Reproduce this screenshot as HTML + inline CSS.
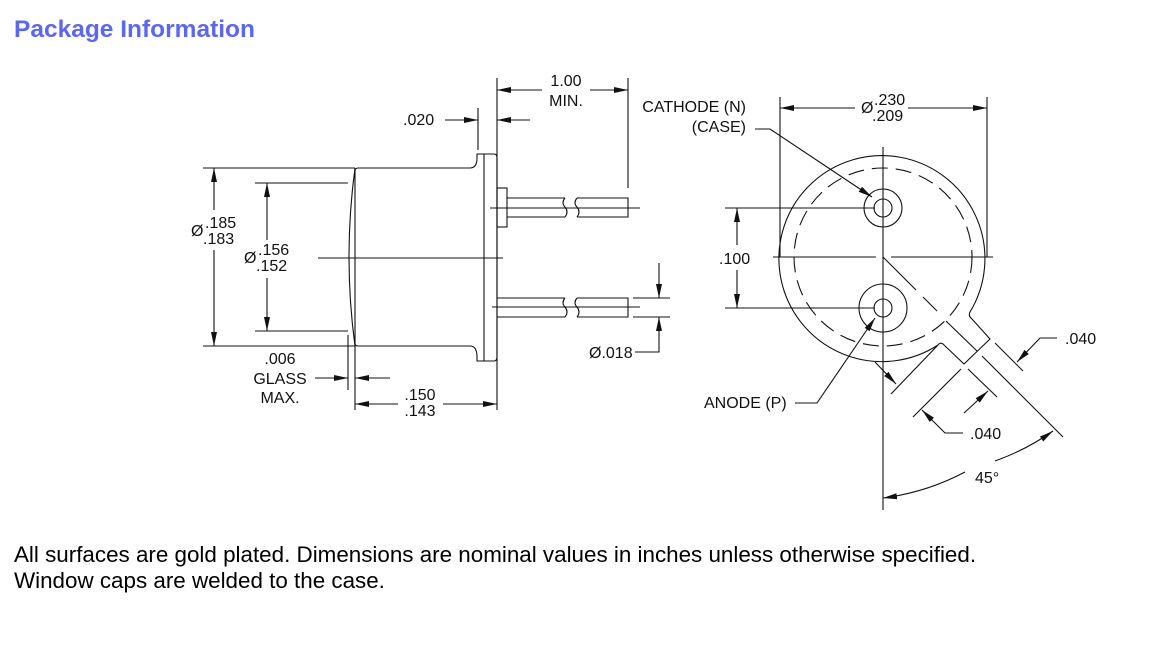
<!DOCTYPE html>
<html><head><meta charset="utf-8"><style>
body{margin:0;background:#fff;width:1167px;height:656px;overflow:hidden;font-family:"Liberation Sans",Arial,sans-serif}
h1{position:absolute;left:14px;top:16px;margin:0;font-size:24.5px;font-weight:bold;color:#5b67f0}
.f{position:absolute;left:14px;font-size:22.4px;color:#000;white-space:nowrap;line-height:26px}
svg{position:absolute;left:0;top:0}
text{font-family:"Liberation Sans",Arial,sans-serif;font-size:16px;fill:#111}
</style></head><body>
<h1>Package Information</h1>
<svg width="1167" height="656" viewBox="0 0 1167 656">
<defs>
<marker id="a" viewBox="0 0 14 7" refX="14" refY="3.5" markerWidth="14" markerHeight="7" orient="auto" markerUnits="userSpaceOnUse"><path d="M0,0.5 L14,3.5 L0,6.5 Z" fill="#111"/></marker>
</defs>
<g stroke="#111" stroke-width="1.1" fill="none">
<path d="M358,168 L470,168 Q477,168 477,158 L477,154 L484,154 L484,361 L477,361 L477,357 Q477,346 470,346 L358,346 Q355,346 355,343 L355,171 Q355,168 358,168"/>
<path d="M484,154 L494,154 Q497,154 497,158 L497,357 Q497,361 494,361 L484,361"/>
<path d="M355,168 Q343,257 355,346"/>
<line x1="318" y1="258" x2="503" y2="258"/>
<rect x="497" y="188" width="10" height="39"/>
<path d="M507,198 L565,198 M507,217 L565,217 M577,198 L628,198 L628,217 L577,217"/>
<path d="M565,198 q-4,5 0,9 q4,5 0,10 M577,198 q-4,5 0,9 q4,5 0,10"/>
<path d="M497,298 L565,298 M497,317 L565,317 M577,298 L628,298 L628,317 L577,317"/>
<path d="M565,298 q-4,5 0,9 q4,5 0,10 M577,298 q-4,5 0,9 q4,5 0,10"/>
<line x1="490" y1="208" x2="640" y2="208"/>
<line x1="492" y1="307" x2="640" y2="307"/>
<line x1="203" y1="168" x2="355" y2="168"/><line x1="203" y1="346" x2="355" y2="346"/>
<line x1="214" y1="210" x2="214" y2="168" marker-end="url(#a)"/><line x1="214" y1="250" x2="214" y2="346" marker-end="url(#a)"/>
<line x1="255" y1="183" x2="348" y2="183"/><line x1="255" y1="331" x2="348" y2="331"/>
<line x1="267" y1="240" x2="267" y2="183" marker-end="url(#a)"/><line x1="267" y1="278" x2="267" y2="331" marker-end="url(#a)"/>
<line x1="478" y1="108" x2="478" y2="150"/><line x1="497" y1="78" x2="497" y2="410"/>
<line x1="445" y1="120" x2="478" y2="120" marker-end="url(#a)"/><line x1="530" y1="120" x2="497" y2="120" marker-end="url(#a)"/>
<line x1="628" y1="78" x2="628" y2="188"/>
<line x1="542" y1="90" x2="497" y2="90" marker-end="url(#a)"/><line x1="590" y1="90" x2="628" y2="90" marker-end="url(#a)"/>
<line x1="348" y1="335" x2="348" y2="390"/><line x1="355" y1="346" x2="355" y2="410"/>
<line x1="315" y1="378" x2="348" y2="378" marker-end="url(#a)"/><line x1="390" y1="378" x2="355" y2="378" marker-end="url(#a)"/>
<line x1="398" y1="404" x2="355" y2="404" marker-end="url(#a)"/><line x1="443" y1="404" x2="497" y2="404" marker-end="url(#a)"/>
<line x1="633" y1="298" x2="670" y2="298"/><line x1="633" y1="317" x2="670" y2="317"/>
<line x1="659" y1="263" x2="659" y2="298" marker-end="url(#a)"/><path d="M635,352 L659,352 L659,317" marker-end="url(#a)"/>
<path d="M938,345 A103,103 0 1 1 970,312 Q968,316 972,319 L990,339 L964,364 L943,344 Q940,342 938,345"/>
<circle cx="883" cy="257" r="89" stroke-dasharray="16,8"/>
<circle cx="883" cy="208" r="9"/><circle cx="883" cy="208" r="19"/>
<circle cx="883" cy="308" r="9"/><circle cx="883" cy="308" r="24"/>
<line x1="946" y1="321" x2="977" y2="351"/>
<line x1="883" y1="147" x2="883" y2="510"/>
<line x1="773" y1="257" x2="876" y2="257"/><line x1="891" y1="257" x2="993" y2="257"/>
<path d="M883,257 L916,290 M923,297 L937,311"/>
<line x1="780" y1="97" x2="780" y2="257"/><line x1="987" y1="97" x2="987" y2="257"/>
<line x1="855" y1="108" x2="780" y2="108" marker-end="url(#a)"/><line x1="908" y1="108" x2="987" y2="108" marker-end="url(#a)"/>
<line x1="725" y1="208" x2="875" y2="208"/><line x1="725" y1="308" x2="875" y2="308"/>
<line x1="737" y1="245" x2="737" y2="208" marker-end="url(#a)"/><line x1="737" y1="270" x2="737" y2="308" marker-end="url(#a)"/>
<path d="M755,129 L770,129 L872,197" marker-end="url(#a)"/>
<path d="M795,403 L817,403 L875,318" marker-end="url(#a)"/>
<line x1="982" y1="356" x2="1063" y2="437"/><line x1="995" y1="343" x2="1023" y2="371"/>
<path d="M1057,338 L1040,338 L1017,362" marker-end="url(#a)"/>
<line x1="938" y1="345" x2="891" y2="394"/><line x1="961" y1="369" x2="913" y2="417"/>
<line x1="968" y1="369" x2="997" y2="397"/>
<path d="M963,433 L945,433 L922,410" marker-end="url(#a)"/>
<line x1="964" y1="413" x2="988" y2="391" marker-end="url(#a)"/>
<line x1="875" y1="362" x2="896" y2="384" marker-end="url(#a)"/>
<path d="M995,461 A241,241 0 0 0 1053,431" marker-end="url(#a)"/>
<path d="M965,472 A241,241 0 0 1 883,498" marker-end="url(#a)"/>
</g>
<g>
<text x="191" y="236" font-size="17">Ø</text><text x="205" y="228">.185</text><text x="203" y="244">.183</text>
<text x="244" y="263" font-size="17">Ø</text><text x="258" y="255">.156</text><text x="256" y="271">.152</text>
<text x="403" y="125">.020</text>
<text x="566" y="86" text-anchor="middle">1.00</text><text x="566" y="106" text-anchor="middle">MIN.</text>
<text x="280" y="364" text-anchor="middle">.006</text><text x="280" y="384" text-anchor="middle">GLASS</text><text x="280" y="403" text-anchor="middle">MAX.</text>
<text x="420" y="400" text-anchor="middle">.150</text><text x="420" y="416" text-anchor="middle">.143</text>
<text x="589" y="358">Ø.018</text>
<text x="746" y="112" text-anchor="end">CATHODE (N)</text><text x="746" y="132" text-anchor="end">(CASE)</text>
<text x="861" y="113" font-size="17">Ø</text><text x="874" y="105">.230</text><text x="872" y="121">.209</text>
<text x="719" y="264">.100</text>
<text x="704" y="408">ANODE (P)</text>
<text x="1065" y="344">.040</text>
<text x="970" y="439">.040</text>
<text x="975" y="483">45°</text>
</g>
</svg>
<div class="f" style="top:542px">All surfaces are gold plated. Dimensions are nominal values in inches unless otherwise specified.</div>
<div class="f" style="top:568px">Window caps are welded to the case.</div>
</body></html>
